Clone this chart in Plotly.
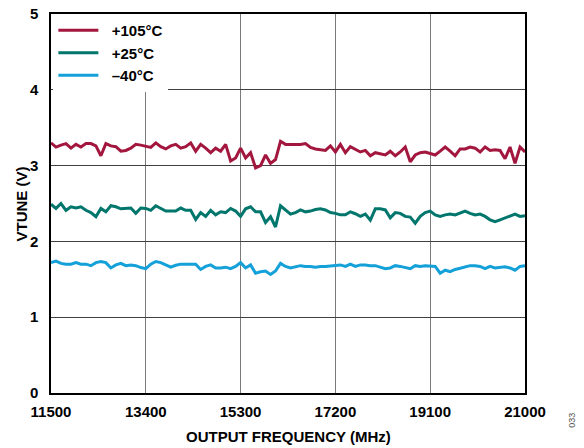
import plotly.graph_objects as go

freq_start = 11500
freq_step = 100
n_points = 96
freq = [freq_start + freq_step * i for i in range(n_points)]

vtune_105 = [
    3.30, 3.245, 3.27, 3.29, 3.23, 3.28, 3.245, 3.29, 3.29, 3.26,
    3.13, 3.29, 3.26, 3.25, 3.19, 3.20, 3.23, 3.28, 3.27, 3.25,
    3.24, 3.30, 3.25, 3.22, 3.26, 3.28, 3.23, 3.25, 3.30, 3.19,
    3.28, 3.23, 3.17, 3.23, 3.19, 3.28, 3.06, 3.10, 3.23, 3.10,
    3.17, 2.97, 3.00, 3.14, 3.03, 3.08, 3.32, 3.28, 3.28, 3.28,
    3.28, 3.29, 3.24, 3.22, 3.21, 3.20, 3.26, 3.18, 3.28, 3.17,
    3.25, 3.22, 3.18, 3.20, 3.13, 3.17, 3.15, 3.14, 3.19, 3.13,
    3.18, 3.245, 3.05, 3.14, 3.17, 3.18, 3.16, 3.14, 3.19, 3.245,
    3.19, 3.13, 3.22, 3.22, 3.245, 3.23, 3.18, 3.245, 3.20, 3.21,
    3.20, 3.09, 3.245, 3.03, 3.245, 3.18,
]

vtune_25 = [
    2.49, 2.435, 2.50, 2.41, 2.457, 2.44, 2.457, 2.41, 2.38, 2.325,
    2.435, 2.39, 2.47, 2.457, 2.43, 2.435, 2.44, 2.37, 2.44, 2.435,
    2.41, 2.47, 2.435, 2.40, 2.40, 2.40, 2.44, 2.41, 2.41, 2.29,
    2.38, 2.33, 2.41, 2.35, 2.39, 2.38, 2.435, 2.40, 2.33, 2.43,
    2.457, 2.39, 2.39, 2.25, 2.325, 2.19, 2.47, 2.41, 2.36, 2.38,
    2.415, 2.39, 2.40, 2.42, 2.43, 2.415, 2.38, 2.37, 2.35, 2.35,
    2.39, 2.365, 2.33, 2.36, 2.28, 2.43, 2.43, 2.415, 2.31, 2.38,
    2.37, 2.33, 2.32, 2.24, 2.33, 2.38, 2.40, 2.35, 2.33, 2.35,
    2.36, 2.35, 2.38, 2.40, 2.37, 2.35, 2.36, 2.33, 2.285, 2.26,
    2.285, 2.31, 2.34, 2.36, 2.33, 2.34,
]

vtune_m40 = [
    1.72, 1.74, 1.71, 1.70, 1.70, 1.72, 1.70, 1.70, 1.68, 1.72,
    1.735, 1.72, 1.65, 1.69, 1.71, 1.68, 1.69, 1.68, 1.655, 1.64,
    1.70, 1.735, 1.72, 1.685, 1.66, 1.685, 1.70, 1.70, 1.70, 1.70,
    1.63, 1.67, 1.69, 1.65, 1.65, 1.66, 1.64, 1.67, 1.72, 1.65,
    1.69, 1.58, 1.60, 1.61, 1.565, 1.61, 1.71, 1.67, 1.65, 1.67,
    1.68, 1.67, 1.67, 1.66, 1.67, 1.67, 1.68, 1.685, 1.69, 1.67,
    1.70, 1.67, 1.69, 1.69, 1.68, 1.68, 1.66, 1.64, 1.65, 1.68,
    1.67, 1.65, 1.64, 1.68, 1.67, 1.68, 1.675, 1.67, 1.58, 1.62,
    1.60, 1.63, 1.645, 1.66, 1.68, 1.68, 1.67, 1.64, 1.67, 1.65,
    1.66, 1.665, 1.65, 1.62, 1.67, 1.68,
]

series_names = ["+105°C", "+25°C", "\u201340°C"]
series_colors = ["#A3173F", "#00766C", "#14A0D8"]
x_ticks = [11500, 13400, 15300, 17200, 19100, 21000]
y_ticks = [0, 1, 2, 3, 4, 5]

FONT = "Liberation Sans, Arial, sans-serif"
BOLD15 = dict(family=FONT, size=15, color="black", weight="bold")

fig = go.Figure()
for name, vals, col in zip(series_names, [vtune_105, vtune_25, vtune_m40], series_colors):
    fig.add_trace(go.Scatter(x=freq, y=vals, mode="lines",
                             name="\u00a0\u00a0" + name,
                             line=dict(color=col, width=3)))

fig.update_layout(
    template="none",
    width=584, height=448,
    margin=dict(l=51, r=59, t=14, b=55, autoexpand=False),
    paper_bgcolor="white", plot_bgcolor="white",
    font=dict(family=FONT, size=15, color="black"),
    showlegend=True,
    legend=dict(x=0.005, y=1.0, xanchor="left", yanchor="top",
                bgcolor="white", borderwidth=0, itemwidth=40,
                font=BOLD15),
)
fig.update_xaxes(
    range=[11500, 21000], tickvals=x_ticks, ticktext=[str(v) for v in x_ticks],
    showgrid=True, gridcolor="#7a7a7a", gridwidth=1,
    showline=True, linecolor="black", linewidth=1.5, mirror=True,
    ticks="", ticklabelstandoff=4, zeroline=False, automargin=False,
    tickfont=BOLD15,
)
fig.update_yaxes(
    range=[0, 5], tickvals=y_ticks, ticktext=[str(v) for v in y_ticks],
    showgrid=True, gridcolor="#404040", gridwidth=1,
    showline=True, linecolor="black", linewidth=1.5, mirror=True,
    ticks="", ticklabelstandoff=8, zeroline=False, automargin=False,
    tickfont=BOLD15,
)
fig.add_annotation(text="OUTPUT FREQUENCY (MHz)", xref="paper", yref="paper",
                   x=0.5, y=-0.116, xanchor="center", yanchor="middle",
                   showarrow=False, font=BOLD15)
fig.add_annotation(text="VTUNE (V)", xref="paper", yref="paper",
                   x=-0.0612, y=0.5, xanchor="center", yanchor="middle",
                   showarrow=False, textangle=-90, font=BOLD15)
fig.add_annotation(text="033", xref="paper", yref="paper", x=1.099, y=-0.071,
                   xanchor="center", yanchor="middle",
                   showarrow=False, textangle=-90,
                   font=dict(family=FONT, size=9, color="#555555"))

fig.write_html("out.html", config={"displayModeBar": False},
               post_script="document.body.style.margin='0';")
